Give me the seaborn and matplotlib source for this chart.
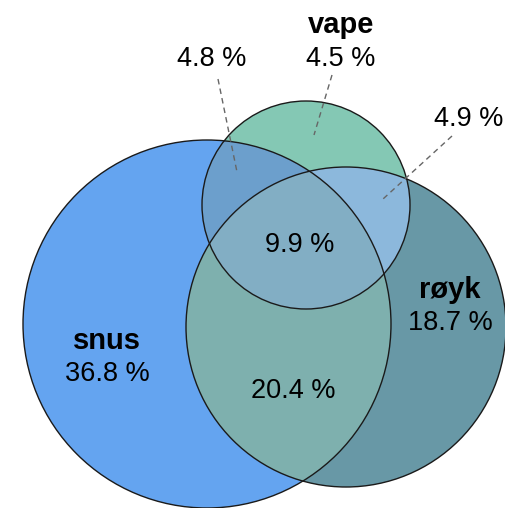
import numpy as np
import matplotlib
matplotlib.use("Agg")
import matplotlib.pyplot as plt
from matplotlib.patches import Circle, Polygon
import seaborn as sns

# ---- data ----
sets = ["snus", "røyk", "vape"]
only_pct = [36.8, 18.7, 4.5]          # snus only, røyk only, vape only
pair_labels = ["snus&røyk", "snus&vape", "røyk&vape"]
pair_pct = [20.4, 4.8, 4.9]
triple_pct = 9.9

# ---- layout (pixel space of a 505x508 canvas) ----
centers = {"snus": (207, 324), "røyk": (346, 327), "vape": (306, 205)}
radii = {"snus": 184, "røyk": 160, "vape": 104}
base_col = {"snus": "#64a4f0", "røyk": "#6898a6", "vape": "#84c8b4"}
pair_col = {"snus&røyk": "#7eb0ae", "snus&vape": "#6c9fcc", "røyk&vape": "#8cb8dc"}
triple_col = "#82aec4"

sns.set_theme(style="white")
plt.rcParams["font.family"] = ["Liberation Sans", "DejaVu Sans"]

fig = plt.figure(figsize=(5.05, 5.08), dpi=100)
ax = fig.add_axes([0, 0, 1, 1])
ax.set_xlim(0, 505)
ax.set_ylim(508, 0)
ax.set_aspect("equal")
ax.axis("off")


def circ(name, **kw):
    return Circle(centers[name], radii[name], **kw)


# base circles
for s in ["snus", "røyk", "vape"]:
    ax.add_patch(circ(s, facecolor=base_col[s], edgecolor="none", zorder=1))

# pair intersections
for pl in pair_labels:
    a, b = pl.split("&")
    clipper = circ(a, transform=ax.transData)
    p = circ(b, facecolor=pair_col[pl], edgecolor="none", zorder=2)
    ax.add_patch(p)
    p.set_clip_path(clipper)


# triple intersection: lens of snus & vape, clipped by røyk
def lens(a, b, n=720):
    t = np.linspace(0, 2 * np.pi, n)
    ca, ra = np.array(centers[a]), radii[a]
    cb, rb = np.array(centers[b]), radii[b]
    pa = ca + ra * np.c_[np.cos(t), np.sin(t)]
    pb = cb + rb * np.c_[np.cos(t), np.sin(t)]
    pts = np.vstack([pa[np.linalg.norm(pa - cb, axis=1) <= rb],
                     pb[np.linalg.norm(pb - ca, axis=1) <= ra]])
    c = pts.mean(axis=0)
    ang = np.arctan2(pts[:, 1] - c[1], pts[:, 0] - c[0])
    return pts[np.argsort(ang)]


tp = Polygon(lens("snus", "vape"), closed=True, facecolor=triple_col,
             edgecolor="none", zorder=3)
ax.add_patch(tp)
tp.set_clip_path(circ("røyk", transform=ax.transData))

# outlines
for s in ["snus", "røyk", "vape"]:
    ax.add_patch(circ(s, facecolor="none", edgecolor="#1a1a1a", lw=1.0, zorder=4))

fs = 19.5
fs_name = 21
# set labels
name_pos = {"snus": (107, 341), "røyk": (450, 290), "vape": (341, 25)}
val_pos = {"snus": (107, 374), "røyk": (450, 323), "vape": (341, 59)}
for s, v in zip(sets, only_pct):
    ax.text(*name_pos[s], s, ha="center", va="center", fontsize=fs_name,
            fontweight="bold", color="black", zorder=6)
    ax.text(*val_pos[s], f"{v} %", ha="center", va="center", fontsize=fs,
            color="black", zorder=6)

# pair labels
pair_pos = {"snus&røyk": (293, 391), "snus&vape": (212, 59), "røyk&vape": (469, 119)}
for pl, v in zip(pair_labels, pair_pct):
    ax.text(*pair_pos[pl], f"{v} %", ha="center", va="center", fontsize=fs,
            color="black", zorder=6)
ax.text(300, 245, f"{triple_pct} %", ha="center", va="center", fontsize=fs,
        color="black", zorder=6)

# leader lines
leaders = [((218, 79), (237, 172)), ((332, 75), (314, 135)), ((452, 136), (383, 199))]
for (x0, y0), (x1, y1) in leaders:
    ax.plot([x0, x1], [y0, y1], ls=(0, (4, 3)), color="#666666", lw=1.0, zorder=5)

fig.savefig("out.png", dpi=100)
